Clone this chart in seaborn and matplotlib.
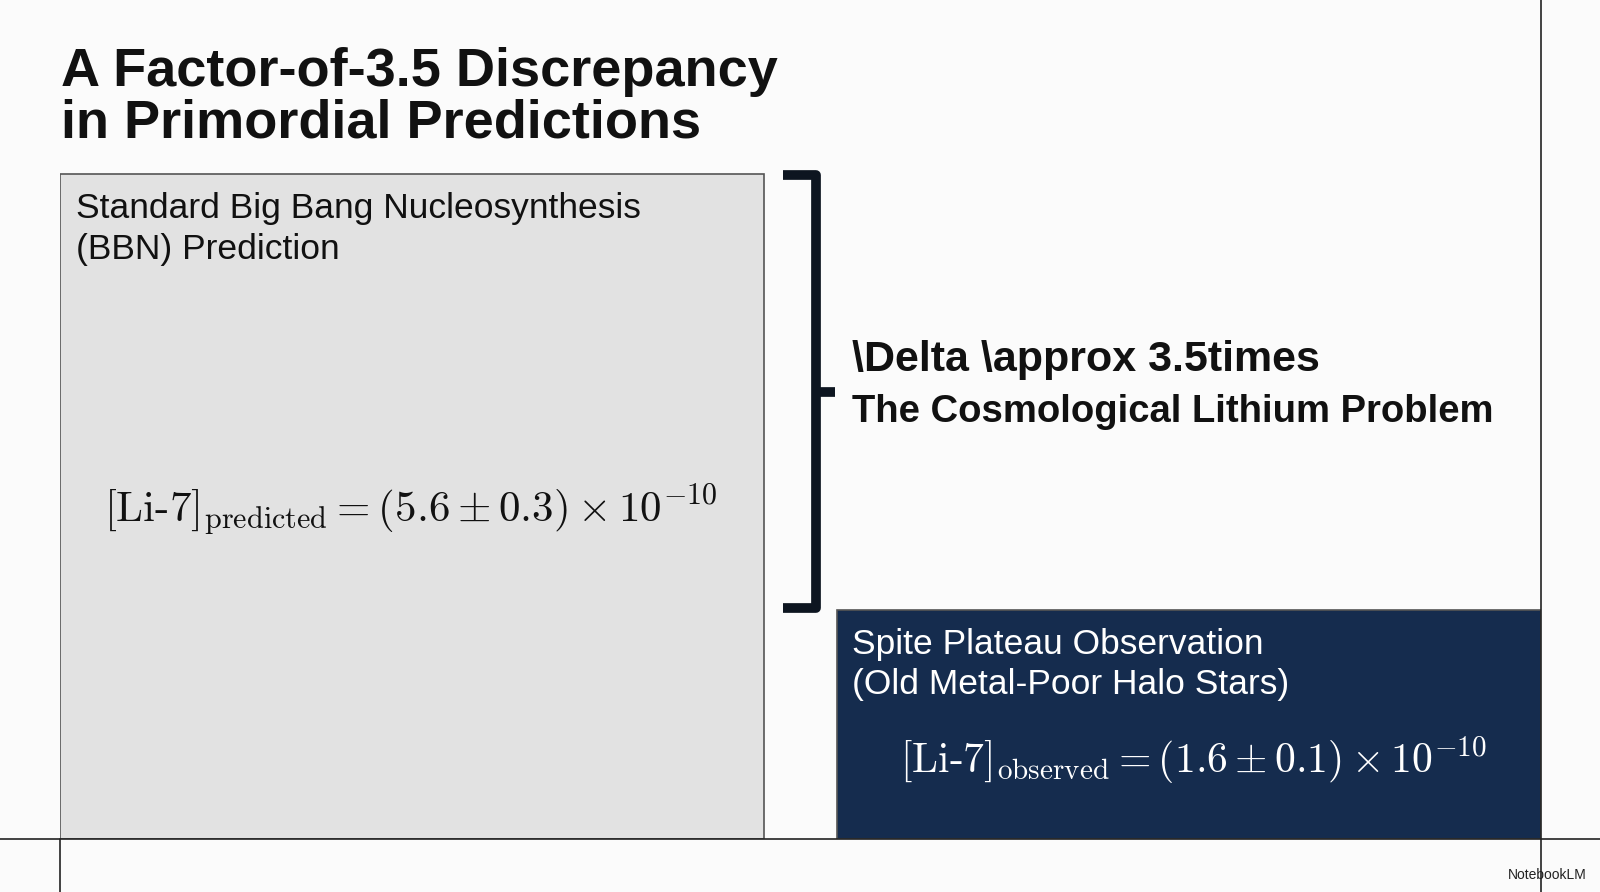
import matplotlib.pyplot as plt
import seaborn as sns
import pandas as pd
from matplotlib.lines import Line2D

# bar heights as drawn on the slide (relative units, Li-7 x 1e-10)
categories = ['BBN Prediction', 'Spite Plateau']
bar_height = [5.6, 1.93]
colors = ['#e2e2e2', '#0c2a57']
labels = ['Standard Big Bang Nucleosynthesis\n(BBN) Prediction',
          'Spite Plateau Observation\n(Old Metal-Poor Halo Stars)']
formulas = [r'$[\mathrm{Li}\text{-}\mathrm{7}]_{\mathrm{predicted}} = (5.6 \pm 0.3) \times 10^{-10}$',
            r'$[\mathrm{Li}\text{-}\mathrm{7}]_{\mathrm{observed}} = (1.6 \pm 0.1) \times 10^{-10}$']

W, H = 1568, 874  # reference measured in this pixel frame
bw = 0.907

sns.set_style('white')
plt.rcParams['font.family'] = ['Liberation Sans', 'DejaVu Sans']
plt.rcParams['mathtext.fontset'] = 'cm'

fig = plt.figure(figsize=(16, 8.92), dpi=100, facecolor='#fbfbfb')
ax = fig.add_axes([59/W, (H - 822)/H, 1451/W, 822/H])
ax.set_facecolor('#fbfbfb')
df = pd.DataFrame({'cat': categories, 'val': bar_height})
sns.barplot(data=df, x='cat', y='val', hue='cat', palette=colors, width=bw,
            legend=False, ax=ax, edgecolor=['#555555', '#0c2a57'], linewidth=1.2)
ax.set_xlim(-bw / 2, 1 + bw / 2)
ax.set_ylim(0, 822/116.4)
ax.axis('off')

# texts inside bars
fig.text(74/W, 1 - 188/H, labels[0], va='top', ha='left', fontsize=25.5, color='#111111', linespacing=1.3)
fig.text(403/W, 1 - 500/H, formulas[0], ha='center', va='center', fontsize=31, color='#111111')
fig.text(835/W, 1 - 615/H, labels[1], va='top', ha='left', fontsize=25.5, color='white', linespacing=1.3)
fig.text(1170/W, 1 - 745/H, formulas[1], ha='center', va='center', fontsize=30, color='white')

# bracket between the two bar tops
bx0, bx1, btick = 0.478, 0.52, 0.544
ymid = (bar_height[0] + bar_height[1]) / 2
kw = dict(color='#0d1520', lw=7, solid_capstyle='butt')
ax.plot([bx0, bx1, bx1, bx0], [bar_height[0] - 0.01, bar_height[0] - 0.01, bar_height[1] + 0.01, bar_height[1] + 0.01], **kw)
ax.plot([bx1, btick], [ymid, ymid], **kw)

fig.text(835/W, 1 - 353/H, r'\Delta \approx 3.5times', fontsize=31, fontweight='bold', va='center', color='#111111')
fig.text(835/W, 1 - 404/H, 'The Cosmological Lithium Problem', fontsize=27.5, fontweight='bold', va='center', color='#111111')

# title
fig.text(60/W, 1 - 96/H, 'A Factor-of-3.5 Discrepancy\nin Primordial Predictions', fontsize=39,
         fontweight='bold', va='center', ha='left', color='#111111', linespacing=1.05)

# frame lines
fig.add_artist(Line2D([0, 1], [(H - 822)/H] * 2, color='#222222', lw=1.2))
fig.add_artist(Line2D([59/W] * 2, [0, (H - 822)/H], color='#222222', lw=1.2))
fig.add_artist(Line2D([1510/W] * 2, [0, 1], color='#222222', lw=1.2))

fig.text(1555/W, 1 - 857/H, 'NotebookLM', fontsize=10, ha='right', va='center', color='#222222')

fig.savefig('out.png', dpi=100, facecolor=fig.get_facecolor())
